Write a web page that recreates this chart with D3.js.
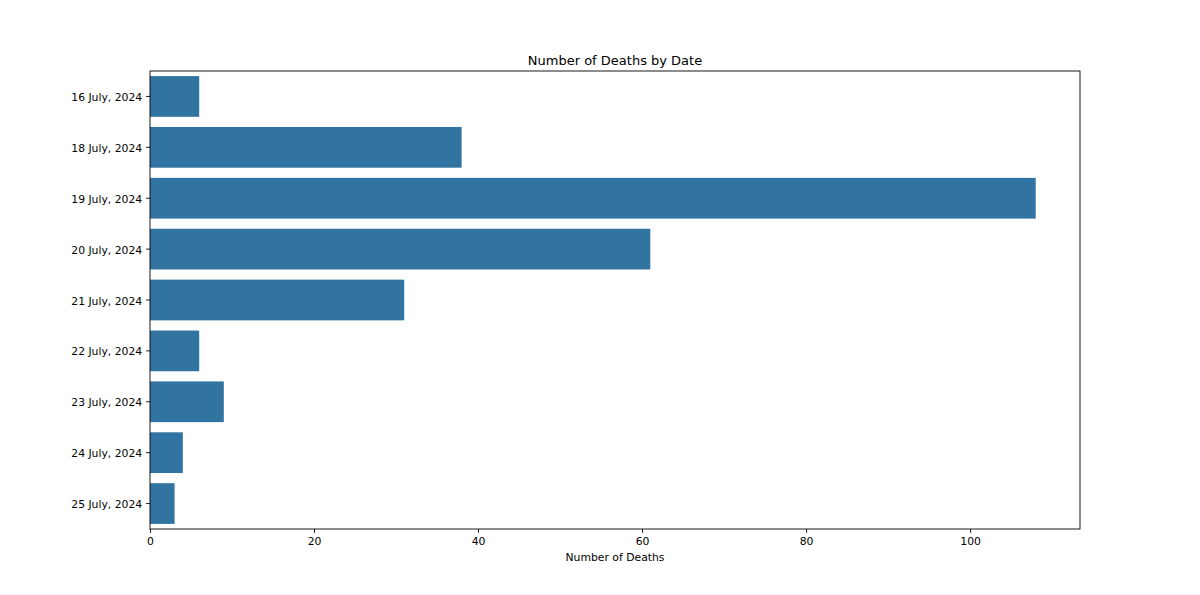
<!DOCTYPE html>
<html>
<head>
<meta charset="utf-8">
<script src="https://cdn.jsdelivr.net/npm/d3@7"></script>
<style>
body { margin: 0; background: #fff; }
text { font-family: "DejaVu Sans", sans-serif; fill: #000; }
</style>
</head>
<body>
<svg id="chart" width="1200" height="595"></svg>
<script>
const categories = ["16 July, 2024","18 July, 2024","19 July, 2024","20 July, 2024","21 July, 2024","22 July, 2024","23 July, 2024","24 July, 2024","25 July, 2024"];
const deaths = [6, 38, 108, 61, 31, 6, 9, 4, 3];
const xTicks = [0, 20, 40, 60, 80, 100];

const svg = d3.select("#chart");
const m = {left: 150, right: 1080, top: 71, bottom: 529};

const x = d3.scaleLinear().domain([0, d3.max(deaths) * 1.05]).range([m.left, m.right]);
const y = d3.scaleBand().domain(categories).range([m.top, m.bottom]).paddingInner(0.2).paddingOuter(0.1);

svg.append("g").selectAll("rect").data(deaths).join("rect")
  .attr("x", x(0))
  .attr("y", (d, i) => y(categories[i]))
  .attr("width", d => x(d) - x(0))
  .attr("height", y.bandwidth())
  .attr("fill", "#3274a1");

const xAxis = svg.append("g").attr("transform", `translate(0,${m.bottom})`)
  .call(d3.axisBottom(x).tickValues(xTicks).tickSize(3.9).tickPadding(4.3).tickSizeOuter(0));
const yAxis = svg.append("g").attr("transform", `translate(${m.left},0)`)
  .call(d3.axisLeft(y).tickSize(3.9).tickPadding(3.9).tickSizeOuter(0));
[xAxis, yAxis].forEach(a => {
  a.select(".domain").remove();
  a.selectAll("line").attr("stroke", "#000").attr("stroke-width", 0.9);
  a.selectAll("text").attr("font-size", 10.8).attr("font-family", "DejaVu Sans").attr("fill", "#000");
});
yAxis.selectAll("text").attr("dy", "0.42em");

svg.append("rect").attr("x", m.left).attr("y", m.top)
  .attr("width", m.right - m.left).attr("height", m.bottom - m.top)
  .attr("fill", "none").attr("stroke", "#000").attr("stroke-width", 0.9);

svg.append("text").attr("x", (m.left + m.right) / 2).attr("y", 65)
  .attr("text-anchor", "middle").attr("font-size", 13).text("Number of Deaths by Date");

svg.append("text").attr("x", (m.left + m.right) / 2).attr("y", 561)
  .attr("text-anchor", "middle").attr("font-size", 10.8).text("Number of Deaths");
</script>
</body>
</html>
